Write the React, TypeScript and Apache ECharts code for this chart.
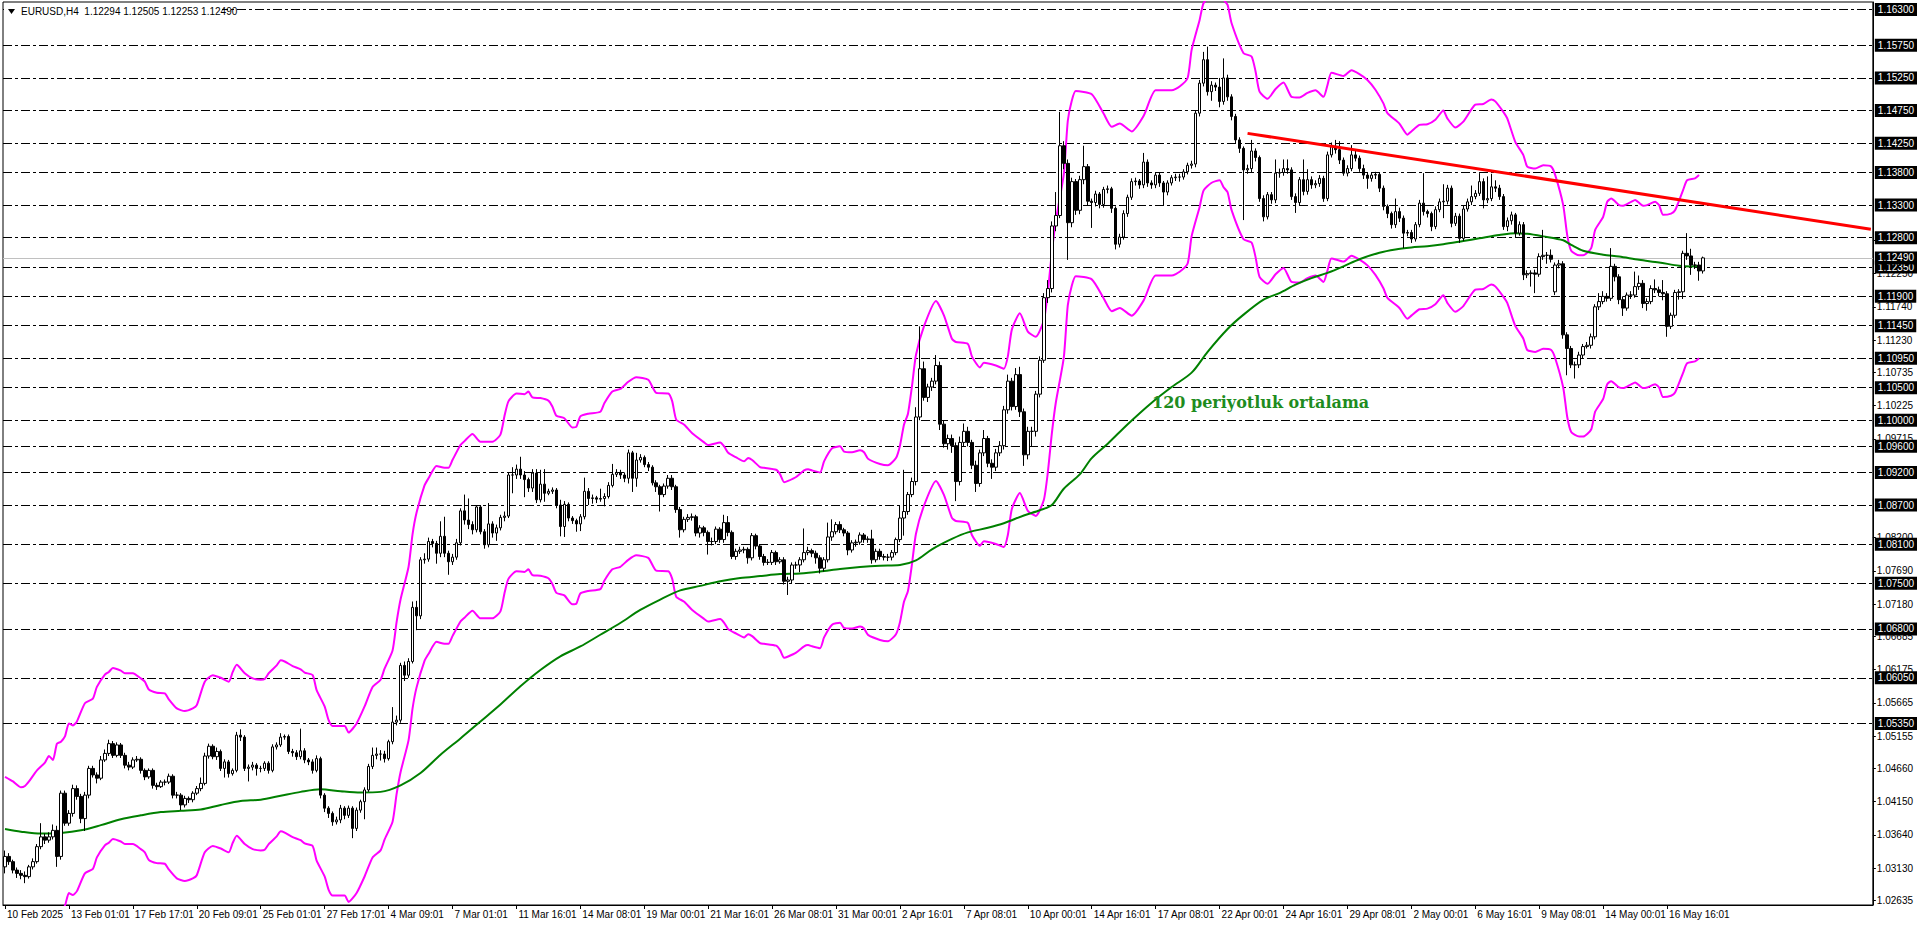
import React, { useEffect, useRef } from "react";
import * as echarts from "echarts";

// ---------- DATA ----------
const HEADER_TEXT = "EURUSD,H4  1.12294 1.12505 1.12253 1.12490";
const MA_LABEL = "120 periyotluk ortalama";

const TICK_LABELS = [
  "10 Feb 2025", "13 Feb 01:01", "17 Feb 17:01", "20 Feb 09:01", "25 Feb 01:01", "27 Feb 17:01",
  "4 Mar 09:01", "7 Mar 01:01", "11 Mar 16:01", "14 Mar 08:01", "19 Mar 00:01", "21 Mar 16:01",
  "26 Mar 08:01", "31 Mar 00:01", "2 Apr 16:01", "7 Apr 08:01", "10 Apr 00:01", "14 Apr 16:01",
  "17 Apr 08:01", "22 Apr 00:01", "24 Apr 16:01", "29 Apr 08:01", "2 May 00:01", "6 May 16:01",
  "9 May 08:01", "14 May 00:01", "16 May 16:01",
];
const BARS_PER_TICK = 16;
const SLOT_COUNT = 468; // bar slots on the time axis (incl. empty right margin)

// H4 candles, prices in 1/10000: [open, close, low, high]
const CANDLES_PIPS = [
  [10315,10331,10305,10340],[10331,10323,10318,10336],[10323,10310,10305,10326],[10310,10305,10298,10314],[10305,10302,10296,10310],[10302,10300,10290,10308],
  [10300,10315,10297,10318],[10315,10323,10311,10328],[10323,10346,10320,10350],[10346,10361,10342,10382],[10361,10356,10350,10366],[10356,10361,10352,10368],
  [10361,10371,10357,10380],[10371,10331,10315,10378],[10331,10428,10326,10432],[10428,10382,10378,10432],[10382,10397,10378,10402],[10397,10435,10392,10441],
  [10435,10423,10418,10440],[10423,10389,10382,10427],[10389,10425,10370,10430],[10425,10466,10420,10470],[10466,10456,10452,10470],[10456,10451,10443,10460],
  [10451,10479,10448,10485],[10479,10489,10476,10495],[10489,10504,10485,10510],[10504,10486,10482,10508],[10486,10502,10483,10506],[10502,10486,10482,10505],
  [10486,10471,10466,10490],[10471,10468,10463,10476],[10468,10479,10465,10483],[10479,10480,10476,10485],[10480,10463,10458,10483],[10463,10453,10448,10466],
  [10453,10463,10450,10466],[10463,10440,10435,10466],[10440,10438,10433,10444],[10438,10445,10436,10448],[10445,10445,10440,10449],[10445,10454,10442,10458],
  [10454,10425,10420,10457],[10425,10425,10420,10430],[10425,10410,10402,10428],[10410,10420,10406,10424],[10420,10418,10413,10423],[10418,10428,10414,10431],
  [10428,10435,10425,10439],[10435,10443,10431,10452],[10443,10485,10440,10490],[10485,10500,10481,10504],[10500,10484,10480,10503],[10484,10492,10479,10498],
  [10492,10466,10462,10495],[10466,10476,10452,10480],[10476,10458,10452,10479],[10458,10463,10455,10466],[10463,10517,10460,10522],[10517,10514,10508,10526],
  [10514,10466,10462,10517],[10466,10468,10446,10472],[10468,10471,10463,10476],[10471,10466,10455,10474],[10466,10466,10460,10470],[10466,10474,10462,10477],
  [10474,10463,10458,10477],[10463,10499,10460,10503],[10499,10502,10495,10506],[10502,10514,10499,10520],[10514,10515,10510,10518],[10515,10492,10488,10518],
  [10492,10490,10484,10496],[10490,10484,10479,10494],[10484,10493,10480,10527],[10493,10479,10474,10497],[10479,10476,10471,10482],[10476,10463,10458,10480],
  [10463,10481,10460,10486],[10481,10425,10420,10484],[10425,10405,10399,10428],[10405,10397,10390,10408],[10397,10384,10378,10400],[10384,10387,10380,10392],
  [10387,10405,10382,10410],[10405,10394,10388,10408],[10394,10405,10390,10409],[10405,10374,10359,10408],[10374,10402,10370,10406],[10402,10415,10398,10418],
  [10415,10433,10388,10437],[10433,10469,10430,10473],[10469,10486,10465,10498],[10486,10488,10480,10498],[10488,10488,10478,10494],[10488,10481,10475,10493],
  [10481,10507,10478,10510],[10507,10537,10503,10560],[10537,10540,10532,10547],[10540,10624,10536,10628],[10624,10609,10600,10630],[10609,10630,10605,10635],
  [10630,10713,10627,10722],[10713,10700,10678,10723],[10700,10786,10695,10790],[10786,10787,10780,10796],[10787,10814,10783,10820],[10814,10811,10805,10818],
  [10811,10796,10780,10815],[10796,10822,10790,10845],[10822,10796,10790,10852],[10796,10783,10763,10800],[10783,10790,10778,10795],[10790,10812,10786,10818],
  [10812,10861,10808,10865],[10861,10847,10840,10886],[10847,10840,10833,10880],[10840,10832,10825,10845],[10832,10867,10828,10870],[10867,10829,10825,10870],
  [10829,10809,10803,10833],[10809,10841,10805,10873],[10841,10827,10820,10845],[10827,10835,10815,10840],[10835,10851,10831,10855],[10851,10853,10845,10860],
  [10853,10916,10850,10920],[10916,10916,10888,10928],[10916,10925,10910,10932],[10925,10916,10910,10944],[10916,10909,10882,10922],[10909,10896,10890,10912],
  [10896,10919,10890,10925],[10919,10878,10873,10925],[10878,10902,10874,10924],[10902,10888,10875,10925],[10888,10891,10885,10895],[10891,10893,10887,10897],
  [10893,10870,10865,10896],[10870,10837,10822,10878],[10837,10871,10821,10876],[10871,10850,10845,10874],[10850,10846,10841,10853],[10846,10841,10829,10849],
  [10841,10852,10830,10856],[10852,10891,10848,10912],[10891,10880,10870,10896],[10880,10881,10872,10886],[10881,10879,10873,10884],[10879,10880,10875,10895],
  [10880,10883,10868,10888],[10883,10900,10880,10905],[10900,10917,10897,10933],[10917,10920,10913,10925],[10920,10916,10910,10924],[10916,10911,10905,10920],
  [10911,10950,10903,10955],[10950,10911,10890,10953],[10911,10939,10898,10950],[10939,10943,10935,10948],[10943,10932,10928,10946],[10932,10928,10922,10936],
  [10928,10904,10900,10931],[10904,10898,10890,10908],[10898,10886,10860,10901],[10886,10899,10882,10903],[10899,10911,10895,10916],[10911,10898,10893,10916],
  [10898,10863,10858,10901],[10863,10832,10820,10867],[10832,10848,10828,10852],[10848,10851,10844,10856],[10851,10852,10846,10857],[10852,10827,10822,10855],
  [10827,10835,10820,10839],[10835,10828,10822,10838],[10828,10814,10794,10831],[10814,10814,10808,10820],[10814,10833,10810,10837],[10833,10817,10812,10836],
  [10817,10843,10812,10855],[10843,10828,10822,10853],[10828,10791,10787,10831],[10791,10799,10786,10803],[10799,10801,10795,10806],[10801,10802,10796,10806],
  [10802,10789,10780,10805],[10789,10823,10785,10827],[10823,10807,10802,10826],[10807,10791,10786,10810],[10791,10782,10777,10795],[10782,10782,10778,10787],
  [10782,10797,10778,10801],[10797,10783,10778,10800],[10783,10786,10780,10790],[10786,10753,10748,10790],[10753,10755,10732,10760],[10755,10778,10750,10782],
  [10778,10778,10772,10783],[10778,10786,10767,10790],[10786,10797,10782,10834],[10797,10800,10793,10806],[10800,10796,10790,10803],[10796,10789,10780,10800],
  [10789,10773,10765,10793],[10773,10786,10768,10790],[10786,10821,10782,10843],[10821,10829,10815,10848],[10829,10840,10825,10844],[10840,10832,10827,10845],
  [10832,10827,10822,10835],[10827,10801,10793,10830],[10801,10812,10797,10816],[10812,10813,10806,10817],[10813,10824,10809,10828],[10824,10817,10812,10827],
  [10817,10818,10812,10822],[10818,10786,10780,10832],[10786,10799,10782,10803],[10799,10791,10786,10803],[10791,10790,10785,10795],[10790,10790,10784,10795],
  [10790,10797,10785,10801],[10797,10817,10793,10820],[10817,10850,10813,10870],[10850,10860,10823,10924],[10860,10886,10855,10890],[10886,10906,10882,10912],
  [10906,11005,10900,11020],[11005,11079,11000,11144],[11079,11035,11030,11090],[11035,11051,11028,11056],[11051,11060,11045,11065],[11060,11084,11055,11100],
  [11084,10994,10985,11090],[10994,10964,10958,11000],[10964,10972,10955,10978],[10972,10961,10950,10978],[10961,10906,10876,10966],[10906,10966,10900,10975],
  [10966,10983,10960,10995],[10983,10966,10960,10990],[10966,10931,10925,10970],[10931,10903,10890,10938],[10903,10950,10898,10955],[10950,10972,10945,10985],
  [10972,10934,10928,10976],[10934,10928,10910,10940],[10928,10950,10922,10956],[10950,10961,10945,10968],[10961,11016,10955,11022],[11016,11060,11010,11070],
  [11060,11021,11015,11065],[11021,11070,11016,11080],[11070,11013,11005,11082],[11013,10947,10930,11018],[10947,10983,10940,10990],[10983,10983,10960,10990],
  [10983,11040,10975,11045],[11040,11092,11035,11098],[11092,11188,11088,11195],[11188,11202,11180,11215],[11202,11298,11196,11305],[11298,11314,11290,11350],
  [11314,11421,11310,11473],[11421,11394,11385,11428],[11394,11303,11246,11400],[11303,11366,11296,11372],[11366,11322,11315,11370],[11322,11369,11316,11375],
  [11369,11389,11362,11421],[11389,11336,11330,11393],[11336,11334,11295,11340],[11334,11347,11328,11352],[11347,11331,11325,11350],[11331,11354,11326,11358],
  [11354,11355,11348,11360],[11355,11325,11318,11358],[11325,11270,11262,11328],[11270,11281,11265,11286],[11281,11317,11277,11322],[11317,11342,11312,11346],
  [11342,11366,11338,11371],[11366,11367,11360,11372],[11367,11361,11355,11370],[11361,11396,11356,11410],[11396,11364,11358,11400],[11364,11361,11355,11368],
  [11361,11376,11356,11380],[11376,11364,11358,11380],[11364,11350,11330,11367],[11350,11364,11345,11368],[11364,11372,11360,11376],[11372,11373,11367,11378],
  [11373,11373,11366,11378],[11373,11381,11369,11385],[11381,11391,11377,11395],[11391,11393,11386,11398],[11393,11471,11388,11475],[11471,11517,11466,11522],
  [11517,11553,11512,11565],[11553,11504,11498,11573],[11504,11514,11490,11520],[11514,11511,11505,11518],[11511,11489,11480,11525],[11489,11525,11484,11555],
  [11525,11496,11490,11530],[11496,11466,11460,11500],[11466,11430,11424,11470],[11430,11417,11410,11434],[11417,11384,11307,11420],[11384,11386,11378,11392],
  [11386,11413,11380,11430],[11413,11403,11397,11417],[11403,11340,11335,11406],[11340,11312,11305,11345],[11312,11346,11308,11350],[11346,11338,11332,11350],
  [11338,11379,11333,11400],[11379,11380,11372,11386],[11380,11386,11375,11400],[11386,11384,11378,11400],[11384,11343,11338,11388],[11343,11334,11318,11348],
  [11334,11369,11330,11373],[11369,11351,11345,11400],[11351,11369,11346,11385],[11369,11361,11355,11374],[11361,11363,11356,11368],[11363,11371,11358,11376],
  [11371,11340,11335,11375],[11340,11407,11336,11412],[11407,11420,11403,11426],[11420,11415,11409,11430],[11415,11399,11393,11428],[11399,11379,11375,11403],
  [11379,11386,11374,11391],[11386,11407,11382,11422],[11407,11402,11397,11415],[11402,11386,11381,11406],[11386,11376,11370,11392],[11376,11371,11355,11380],
  [11371,11376,11366,11380],[11376,11377,11370,11381],[11377,11356,11350,11380],[11356,11328,11322,11360],[11328,11317,11310,11331],[11317,11300,11294,11320],
  [11300,11320,11295,11340],[11320,11310,11304,11326],[11310,11287,11264,11314],[11287,11288,11282,11292],[11288,11278,11272,11292],[11278,11300,11274,11304],
  [11300,11333,11296,11338],[11333,11320,11314,11379],[11320,11317,11311,11323],[11317,11297,11290,11320],[11297,11323,11293,11328],[11323,11335,11319,11340],
  [11335,11336,11310,11362],[11336,11356,11331,11361],[11356,11302,11296,11360],[11302,11313,11298,11318],[11313,11279,11272,11317],[11279,11324,11275,11329],
  [11324,11335,11320,11340],[11335,11343,11330,11360],[11343,11348,11339,11353],[11348,11366,11344,11379],[11366,11338,11325,11371],[11338,11340,11333,11374],
  [11340,11358,11336,11378],[11358,11356,11350,11368],[11356,11343,11338,11361],[11343,11297,11292,11347],[11297,11306,11290,11311],[11306,11315,11300,11320],
  [11315,11287,11280,11318],[11287,11300,11283,11305],[11300,11223,11215,11304],[11223,11225,11218,11230],[11225,11226,11205,11230],[11226,11224,11195,11231],
  [11224,11251,11220,11256],[11251,11253,11246,11292],[11253,11253,11240,11258],[11253,11247,11242,11262],[11197,11238,11192,11242],[11238,11240,11233,11246],
  [11240,11131,11125,11244],[11131,11110,11069,11135],[11110,11085,11080,11114],[11085,11085,11064,11090],[11085,11100,11080,11105],[11100,11113,11095,11117],
  [11113,11115,11110,11120],[11115,11128,11110,11133],[11128,11174,11124,11178],[11174,11182,11169,11195],[11182,11190,11178,11198],[11190,11187,11182,11195],
  [11187,11236,11183,11264],[11236,11220,11213,11240],[11220,11185,11178,11224],[11185,11172,11160,11190],[11172,11192,11168,11196],[11192,11192,11186,11198],
  [11192,11205,11188,11228],[11205,11210,11200,11222],[11210,11179,11172,11215],[11179,11182,11168,11187],[11182,11202,11178,11207],[11202,11200,11195,11216],
  [11200,11196,11190,11205],[11196,11194,11184,11215],[11194,11144,11128,11198],[11144,11161,11140,11165],[11161,11196,11157,11200],[11196,11197,11185,11201],
  [11197,11256,11186,11260],[11256,11252,11246,11287],[11252,11238,11223,11263],[11238,11238,11232,11243],[11238,11229,11214,11243],[11229,11249,11225,11251],
];

// 120-period moving average, read at sample bars: [bar, price in 1/10000]
const MA120_PIPS = [
  [0,10373],[4,10369],[9,10366],[14,10367],[19,10371],[24,10379],[29,10388],[34,10394],[39,10399],[44,10401],
  [49,10403],[54,10410],[59,10416],[64,10418],[69,10424],[74,10430],[79,10434],[84,10431],[89,10429],[94,10430],
  [99,10440],[104,10459],[109,10487],[114,10512],[119,10538],[124,10564],[129,10592],[134,10617],[139,10638],[144,10653],
  [149,10671],[154,10689],[159,10709],[164,10725],[169,10739],[174,10746],[179,10753],[184,10758],[189,10761],[194,10764],
  [199,10765],[204,10768],[209,10772],[214,10775],[219,10777],[224,10778],[228,10785],[232,10802],[237,10818],[241,10828],
  [246,10835],[250,10842],[255,10854],[259,10862],[262,10870],[265,10895],[269,10917],[272,10942],[276,10964],[281,10994],
  [287,11027],[292,11051],[297,11073],[301,11105],[306,11140],[310,11162],[315,11185],[319,11195],[323,11208],[327,11218],
  [331,11226],[335,11236],[339,11247],[344,11257],[348,11262],[352,11265],[356,11267],[360,11270],[365,11275],[369,11279],
  [374,11284],[378,11287],[381,11286],[385,11282],[390,11276],[392,11269],[395,11260],[400,11254],[404,11251],[409,11246],
  [414,11242],[419,11237],[422,11236],[425,11237],
];

// Envelope upper band, read at sample bars: [bar, price in 1/10000]
const ENVELOPE_UPPER_PIPS = [
  [0,10453],[2,10446],[4,10437],[5,10439],[6,10446],[8,10463],[10,10475],[11,10485],[12,10479],[13,10504],[14,10507],[15,10515],
  [16,10535],[17,10532],[18,10538],[20,10566],[22,10573],[23,10591],[25,10610],[26,10614],[27,10620],[29,10616],[30,10612],[32,10612],
  [34,10604],[35,10599],[36,10587],[38,10582],[40,10581],[41,10572],[43,10558],[45,10554],[47,10558],[48,10563],[50,10599],[52,10609],
  [54,10605],[56,10599],[57,10614],[58,10625],[60,10612],[62,10604],[64,10602],[65,10603],[66,10612],[68,10624],[69,10632],[70,10630],
  [72,10623],[74,10618],[75,10613],[77,10609],[78,10586],[80,10561],[81,10540],[82,10531],[85,10531],[86,10521],[88,10535],[90,10561],
  [92,10591],[94,10602],[95,10619],[97,10647],[98,10690],[99,10725],[101,10775],[102,10825],[103,10858],[105,10900],[106,10911],[108,10930],
  [110,10927],[111,10927],[112,10939],[114,10962],[115,10968],[117,10979],[119,10967],[122,10967],[124,10978],[125,11006],[126,11029],[128,11041],
  [130,11040],[131,11044],[132,11035],[134,11034],[136,11030],[137,11021],[138,11007],[140,11003],[142,10989],[143,10990],[144,11006],[146,11010],
  [149,11013],[150,11026],[152,11044],[154,11048],[156,11059],[158,11066],[161,11062],[163,11042],[166,11041],[167,11029],[168,11001],[170,10993],
  [172,10980],[175,10966],[176,10962],[179,10966],[180,10960],[181,10950],[183,10943],[185,10937],[186,10942],[187,10939],[189,10928],[190,10927],
  [193,10924],[194,10917],[195,10905],[196,10907],[198,10913],[200,10923],[201,10925],[202,10923],[204,10920],[205,10937],[207,10957],[209,10960],
  [210,10952],[212,10951],[214,10954],[215,10951],[216,10941],[219,10933],[221,10931],[223,10942],[224,10961],[225,10993],[226,11010],[227,11052],
  [228,11100],[230,11144],[233,11183],[235,11161],[237,11125],[238,11120],[241,11117],[242,11098],[244,11081],[245,11088],[248,11084],[250,11079],
  [251,11098],[252,11139],[254,11164],[256,11136],[258,11128],[260,11153],[261,11196],[262,11257],[263,11306],[265,11377],[266,11459],[267,11490],
  [268,11505],[272,11500],[275,11470],[277,11450],[279,11455],[282,11443],[285,11467],[288,11506],[292,11506],[294,11512],[296,11525],[297,11568],
  [299,11614],[300,11640],[302,11652],[304,11656],[305,11645],[306,11637],[307,11609],[310,11563],[312,11558],[313,11535],[314,11504],[316,11493],
  [318,11508],[320,11518],[322,11496],[324,11495],[326,11502],[328,11506],[330,11496],[331,11514],[332,11533],[335,11528],[337,11537],[339,11531],
  [341,11522],[343,11507],[345,11486],[346,11471],[349,11455],[351,11438],[352,11443],[354,11453],[356,11454],[358,11461],[360,11475],[361,11463],
  [363,11449],[365,11458],[368,11484],[370,11485],[372,11492],[373,11489],[375,11473],[376,11463],[378,11427],[380,11407],[381,11389],[383,11386],
  [385,11391],[387,11389],[388,11376],[390,11330],[391,11284],[392,11260],[394,11253],[395,11253],[397,11264],[398,11292],[400,11312],[401,11335],
  [402,11340],[404,11330],[405,11329],[407,11335],[408,11338],[410,11329],[411,11330],[413,11335],[414,11330],[415,11315],[417,11317],[418,11322],
  [420,11353],[421,11368],[423,11371],[424,11376],
];
const ENVELOPE_DEVIATION_PCT = 1.25;

// Red resistance trend line: two anchor points [bar, price in 1/10000]
const TRENDLINE_PIPS = [[311, 11440], [467, 11293]];

// Horizontal dash-dot levels drawn on the chart
const LEVELS = [1.163, 1.1575, 1.1525, 1.1475, 1.1425, 1.138, 1.133, 1.128, 1.1235, 1.119, 1.1145, 1.1095,
  1.105, 1.1, 1.096, 1.092, 1.087, 1.081, 1.075, 1.068, 1.0605, 1.0535];
const BID_PRICE = 1.1249;

// Right-axis price scale labels (those fully covered by level tags are left out)
const SCALE_LABELS = [1.02635, 1.0313, 1.0364, 1.0415, 1.0466, 1.05155, 1.05665, 1.06175, 1.06685, 1.0718,
  1.0769, 1.082, 1.09715, 1.10225, 1.10735, 1.1123, 1.1174, 1.1225, 1.1276];
const Y_MIN = 1.02565;
const Y_MAX = 1.16415;

const FONT = "'Liberation Sans', Arial, sans-serif";

export default function App() {
  const ref = useRef<HTMLDivElement>(null);

  useEffect(() => {
    if (!ref.current) return;
    const chart = echarts.init(ref.current, null, { renderer: "svg" });

    const p = (v: number) => v / 10000;
    const cats = Array.from({ length: SLOT_COUNT }, (_, i) => String(i));
    const candles = CANDLES_PIPS.map((c) => c.map(p));
    const ma = MA120_PIPS.map(([b, v]) => [b, p(v)]);
    const d = ENVELOPE_DEVIATION_PCT / 100;
    const upper = ENVELOPE_UPPER_PIPS.map(([b, v]) => [b, p(v)]);
    const lower = ENVELOPE_UPPER_PIPS.map(([b, v]) => [b, (p(v) * (1 - d)) / (1 + d)]);
    const trend = TRENDLINE_PIPS.map(([b, v]) => [b, p(v)]);
    const highlighted = [...LEVELS, BID_PRICE];
    const lastTickBar = (TICK_LABELS.length - 1) * BARS_PER_TICK;
    const showTick = (i: number) => i % BARS_PER_TICK === 0 && i <= lastTickBar;

    const option: any = {
      animation: false,
      backgroundColor: "#ffffff",
      grid: {
        left: 3, right: 47, top: 2, bottom: 22,
        show: true, borderColor: "#000", borderWidth: 1, backgroundColor: "#fff",
      },
      xAxis: {
        type: "category",
        data: cats,
        boundaryGap: true,
        axisLine: { show: true, lineStyle: { color: "#000", width: 1 } },
        axisTick: { show: true, interval: (i: number) => showTick(i), alignWithLabel: true, length: 4, lineStyle: { color: "#000" } },
        axisLabel: {
          interval: (i: number) => showTick(i),
          align: "left",
          margin: 4,
          padding: [0, 0, 0, 2],
          fontFamily: FONT,
          fontSize: 10,
          color: "#000",
          formatter: (v: string) => TICK_LABELS[Number(v) / BARS_PER_TICK] ?? "",
        },
        splitLine: { show: false },
      },
      yAxis: [
        {
          type: "value",
          position: "right",
          min: Y_MIN,
          max: Y_MAX,
          axisLine: { show: true, lineStyle: { color: "#000", width: 1 } },
          axisTick: { show: true, customValues: SCALE_LABELS, length: 3, lineStyle: { color: "#000" } },
          axisLabel: {
            customValues: SCALE_LABELS,
            formatter: (v: number) => v.toFixed(5),
            margin: 4,
            fontFamily: FONT,
            fontSize: 10,
            color: "#000",
          },
          splitLine: { show: false },
        },
        {
          type: "value",
          position: "right",
          min: Y_MIN,
          max: Y_MAX,
          z: 10,
          axisLine: { show: false },
          axisTick: { show: false },
          axisLabel: {
            customValues: highlighted,
            formatter: (v: number) => v.toFixed(5),
            margin: 2,
            fontFamily: FONT,
            fontSize: 10,
            color: "#fff",
            backgroundColor: "#000",
            padding: [2, 3, 1, 3],
          },
          splitLine: { show: false },
        },
      ],
      series: [
        {
          type: "line",
          name: "envUpper",
          data: upper,
          showSymbol: false,
          smooth: 0.2,
          lineStyle: { color: "#ff00ff", width: 2 },
          z: 3,
        },
        {
          type: "line",
          name: "envLower",
          data: lower,
          showSymbol: false,
          smooth: 0.2,
          lineStyle: { color: "#ff00ff", width: 2 },
          z: 3,
        },
        {
          type: "line",
          name: "ma120",
          data: ma,
          showSymbol: false,
          smooth: 0.3,
          lineStyle: { color: "#008000", width: 2 },
          z: 3,
        },
        {
          type: "candlestick",
          name: "EURUSD",
          data: candles,
          barWidth: 3,
          itemStyle: {
            color: "#ffffff",
            color0: "#000000",
            borderColor: "#000000",
            borderColor0: "#000000",
            borderWidth: 1,
          },
          z: 4,
          markLine: {
            silent: true,
            precision: 5,
            symbol: ["none", "none"],
            label: { show: false },
            z: 1,
            lineStyle: { color: "#000", width: 1, type: [9, 3, 3, 3] },
            data: [
              ...LEVELS.map((v) => ({ yAxis: v })),
              { yAxis: BID_PRICE, lineStyle: { color: "#c0c0c0", width: 1, type: "solid" } },
            ],
          },
        },
        {
          type: "line",
          name: "trend",
          data: trend,
          showSymbol: false,
          lineStyle: { color: "#ff0000", width: 3 },
          z: 5,
        },
      ],
      graphic: [
        { type: "rect", shape: { x: 4, y: 3, width: 218, height: 14 }, style: { fill: "#fff" }, z: 50 },
        { type: "polygon", shape: { points: [[8, 9], [15, 9], [11.5, 14]] }, style: { fill: "#000" }, z: 51 },
        {
          type: "text", left: 21, top: 6, z: 51,
          style: { text: HEADER_TEXT, fill: "#000", font: `10px ${FONT}` },
        },
        {
          type: "text", left: 1152, top: 394, z: 51,
          style: { text: MA_LABEL, fill: "#1e8c1e", font: `bold 16px 'DejaVu Serif', serif` },
        },
      ],
    };

    chart.setOption(option);
    return () => chart.dispose();
  }, []);

  return (
    <div
      ref={ref}
      style={{ position: "fixed", left: 0, top: 0, width: 1920, height: 927, background: "#fff" }}
    />
  );
}
